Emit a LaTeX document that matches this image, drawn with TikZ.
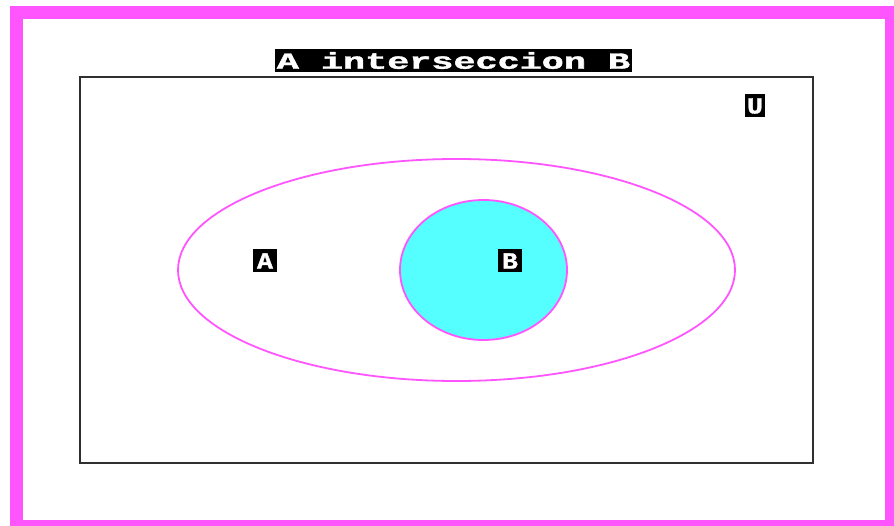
\documentclass[tikz,border=0pt]{standalone}
\usepackage{fontspec}
\newfontfamily\pixfont[FakeBold=1.5]{Liberation Mono}
\definecolor{cgamagenta}{HTML}{FF55FF}
\definecolor{cgacyan}{HTML}{55FFFF}
\definecolor{framegray}{HTML}{303030}
\begin{document}
\begin{tikzpicture}[x=1pt,y=-1pt,
  lbl/.style={fill=black,text=white,font=\pixfont\bfseries\fontsize{23}{23}\selectfont,inner sep=0pt,minimum height=23},
  frame/.style={draw=framegray,line width=2.2pt},
  setline/.style={draw=cgamagenta,line width=1.8pt}
]
\useasboundingbox (0,0) rectangle (894,526);
\fill[white] (0,0) rectangle (894,526);
\fill[cgamagenta] (10,6) rectangle (894,526);
\fill[white] (23,19) rectangle (885,520);
% universe
\draw[frame] (80,77) rectangle (813,463);
% set A
\draw[setline] (456.5,270) ellipse [x radius=278.5, y radius=111];
% set B
\draw[setline,fill=cgacyan] (483.5,270) ellipse [x radius=83.5, y radius=70];
% labels
\node[lbl,minimum width=357] (title) at (453.5,60.5) {\scalebox{1.6}[1]{A interseccion B}};
\node[lbl,minimum width=24] (la) at (265,261) {\scalebox{1.15}[1]{A}};
\node[lbl,minimum width=24] (lb) at (510,261) {\scalebox{1.15}[1]{B}};
\node[lbl,minimum width=20] (lu) at (755,106) {\scalebox{1.15}[1]{U}};
\end{tikzpicture}
\end{document}
